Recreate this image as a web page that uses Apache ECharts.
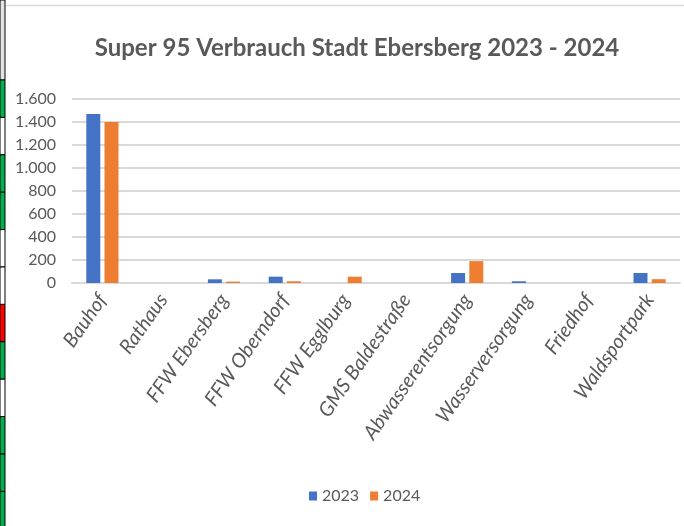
<!DOCTYPE html>
<html>
<head>
<meta charset="utf-8">
<script src="https://cdn.jsdelivr.net/npm/echarts@6/dist/echarts.min.js"></script>
<style>
  html, body { margin: 0; padding: 0; background: #fff; }
  #main { width: 684px; height: 526px; }
</style>
</head>
<body>
<div id="main"></div>
<script>
// data
var categories = ['Bauhof', 'Rathaus', 'FFW Ebersberg', 'FFW Oberndorf', 'FFW Egglburg',
  'GMS Baldestraße', 'Abwasserentsorgung', 'Wasserversorgung', 'Friedhof', 'Waldsportpark'];
var values2023 = [1470, 0, 32, 55, 0, 0, 87, 15, 0, 87];
var values2024 = [1400, 0, 12, 15, 55, 0, 190, 0, 0, 33];
var seriesNames = ['2023', '2024'];

// spreadsheet cells peeking in on the left edge
var cellColors = ['#e3e3e3', '#00b050', '#ffffff', '#00b050', '#00b050', '#ffffff', '#ffffff',
  '#ff0000', '#00b050', '#ffffff', '#00b050', '#00b050', '#00b050'];

function fmt(v) {
  return String(v).replace(/\B(?=(\d{3})+(?!\d))/g, '.');
}

var myChart = echarts.init(document.getElementById('main'));

var cells = [];
var y = 0;
cellColors.forEach(function (c, i) {
  var h = i == 0 ? 80 : 37.4;
  cells.push({
    type: 'rect',
    shape: { x: 0, y: y, width: 5, height: h },
    style: { fill: c, stroke: '#000', lineWidth: 1 },
    silent: true
  });
  y += h;
});
cells.push({
  type: 'line',
  shape: { x1: 6, y1: 5.5, x2: 684, y2: 5.5 },
  style: { stroke: '#d9d9d9', lineWidth: 1.5 },
  silent: true
});

myChart.setOption({
  animation: false,
  color: ['#4472c4', '#ed7d31'],
  textStyle: { fontFamily: 'Lato' },
  graphic: cells,
  title: {
    text: 'Super 95 Verbrauch Stadt Ebersberg 2023 - 2024',
    left: 352,
    top: 31,
    textAlign: 'center',
    textStyle: {
      color: '#595959',
      fontSize: 24,
      fontWeight: 'bold',
      fontFamily: 'Lato'
    }
  },
  grid: {
    left: 72,
    right: 4,
    top: 99,
    bottom: 243
  },
  legend: {
    data: seriesNames,
    top: 483,
    left: 304,
    icon: 'rect',
    itemWidth: 8,
    itemHeight: 9,
    itemGap: 11,
    textStyle: { color: '#595959', fontSize: 16, fontFamily: 'Lato' }
  },
  xAxis: {
    type: 'category',
    data: categories,
    axisTick: { show: false },
    axisLine: { lineStyle: { color: '#d9d9d9', width: 2 } },
    axisLabel: {
      interval: 0,
      rotate: 55,
      margin: 13,
      color: '#595959',
      fontSize: 20,
      fontStyle: 'italic',
      fontFamily: 'Lato'
    }
  },
  yAxis: {
    type: 'value',
    min: 0,
    max: 1600,
    interval: 200,
    axisLine: { show: false },
    axisTick: { show: false },
    splitLine: { lineStyle: { color: '#d9d9d9', width: 2 } },
    axisLabel: {
      margin: 16,
      color: '#595959',
      fontSize: 16,
      fontFamily: 'Lato',
      formatter: fmt
    }
  },
  series: [
    {
      name: seriesNames[0],
      type: 'bar',
      data: values2023,
      barWidth: 14,
      barGap: '30%'
    },
    {
      name: seriesNames[1],
      type: 'bar',
      data: values2024,
      barWidth: 14,
      barGap: '30%'
    }
  ]
});
</script>
</body>
</html>
